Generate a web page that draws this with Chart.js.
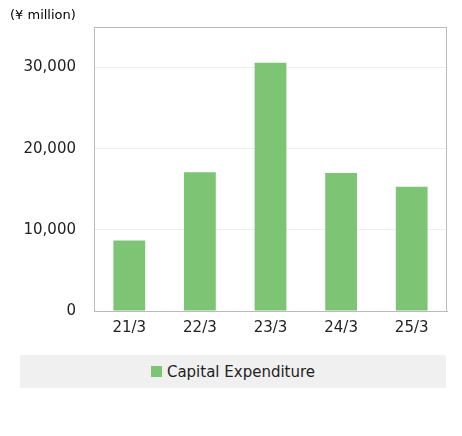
<!DOCTYPE html>
<html><head><meta charset="utf-8">
<script src="https://cdn.jsdelivr.net/npm/chart.js@4"></script>
<style>
body{margin:0;background:#fff;font-family:"DejaVu Sans",sans-serif;}
#wrap{position:relative;width:462px;height:436px;}
#c{position:absolute;left:0;top:0;}
#unit{position:absolute;left:10px;top:7px;font-size:13px;color:#000;}
#leg{position:absolute;left:20px;top:355px;width:426px;height:33px;background:#f0f0f0;display:flex;align-items:center;justify-content:center;font-size:15px;color:#222;}
#leg span.sw{display:inline-block;width:11px;height:11px;background:#7dc474;margin-right:5px;}
</style></head><body>
<div id="wrap"><canvas id="c" width="462" height="345"></canvas>
<div id="unit">(¥ million)</div>
<div id="leg"><span class="sw"></span>Capital Expenditure</div></div>
<script>
const categories=["21/3","22/3","23/3","24/3","25/3"];
const capex=[8700,17100,30600,17000,15300];
const yTicks=[0,10000,20000,30000];
const seriesName="Capital Expenditure";
new Chart(document.getElementById('c'),{
 type:'bar',
 data:{labels:categories,datasets:[{label:seriesName,data:capex,backgroundColor:'#7dc474',barPercentage:0.45,categoryPercentage:1}]},
 options:{responsive:false,animation:false,
  layout:{padding:{top:20,right:15,left:0,bottom:0}},
  plugins:{legend:{display:false},tooltip:{enabled:false}},
  scales:{
   x:{grid:{display:false,drawTicks:false},border:{color:'#bbb'},ticks:{color:'#222',font:{family:'DejaVu Sans',size:15},padding:8}},
   y:{min:0,max:35000,afterFit(s){s.width=94;},afterBuildTicks(s){s.ticks=yTicks.map(v=>({value:v}));},
      grid:{color:(c)=>c.tick&&c.tick.value===0?'#bbb':'#eee',drawTicks:false},border:{color:'#bbb'},
      ticks:{color:'#222',font:{family:'DejaVu Sans',size:15},padding:18,callback:v=>v.toLocaleString('en-US')}}
  }},
 plugins:[{id:'frame',afterDraw(ch){const a=ch.chartArea,x=ch.ctx;x.save();x.strokeStyle='#bbb';x.lineWidth=1;x.strokeRect(a.left+0.5,a.top+0.5,a.right-a.left-1,a.bottom-a.top);x.restore();}}]
});
</script></body></html>
